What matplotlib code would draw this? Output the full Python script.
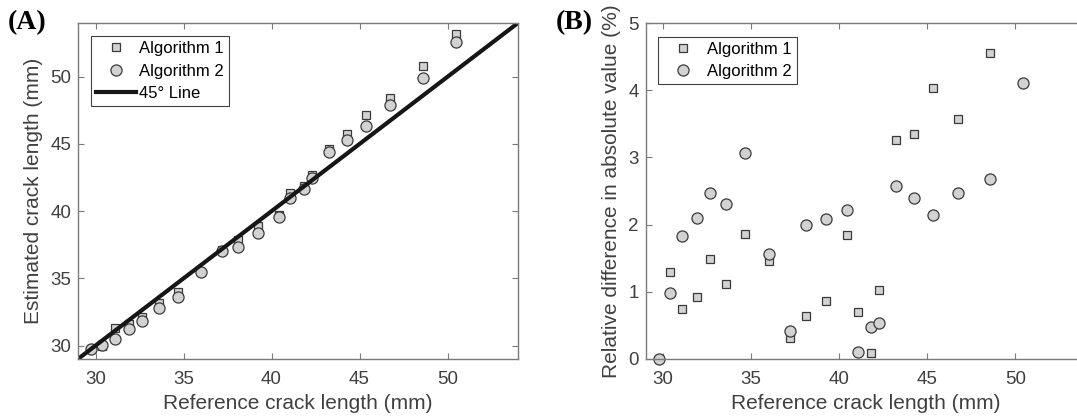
import matplotlib
matplotlib.use('Agg')
from matplotlib import pyplot as plt

# reference crack lengths (mm), shared by both panels
ref_len = [29.76, 30.36, 31.08, 31.91, 32.65, 33.58, 34.66, 36.00, 37.20, 38.10, 39.23,
           40.44, 41.05, 41.82, 42.27, 43.25, 44.26, 45.34, 46.72, 48.58, 50.47]

# estimated crack lengths (mm)
est_alg1 = [29.76, 29.97, 31.31, 31.61, 32.16, 33.20, 34.02, 35.47, 37.08, 37.86, 38.89,
            39.69, 41.34, 41.86, 42.70, 44.66, 45.74, 47.18, 48.39, 50.80, 53.20]
est_alg2 = [29.76, 30.06, 30.51, 31.24, 31.84, 32.81, 33.60, 35.44, 37.05, 37.34, 38.41,
            39.55, 41.00, 41.62, 42.50, 44.37, 45.32, 46.32, 47.87, 49.88, 52.55]

# relative difference in absolute value (%)
rel_alg1 = [0.00, 1.30, 0.74, 0.93, 1.49, 1.12, 1.86, 1.46, 0.31, 0.64, 0.87,
            1.85, 0.70, 0.09, 1.02, 3.26, 3.35, 4.04, 3.57, 4.56, 5.40]
rel_alg2 = [0.00, 0.98, 1.83, 2.10, 2.47, 2.30, 3.07, 1.56, 0.41, 2.00, 2.08,
            2.21, 0.11, 0.48, 0.54, 2.58, 2.40, 2.15, 2.47, 2.68, 4.11]

line_45 = [29, 54]

plt.rcParams['font.family'] = ['Liberation Sans', 'DejaVu Sans']

txt_col = '#404040'
ax_col = '#7a7a7a'
face = '#d2d2d2'
edge = '#3a3a3a'

fig = plt.figure(figsize=(10.77, 4.19), dpi=100)
axA = fig.add_axes([0.0724, 0.1432, 0.4085, 0.8019])
axB = fig.add_axes([0.5995, 0.1432, 0.4085, 0.8019])


def style(ax):
    for s in ax.spines.values():
        s.set_color(ax_col)
        s.set_linewidth(1.0)
    ax.tick_params(direction='in', length=4, width=0.8, color=ax_col,
                   labelcolor=txt_col, labelsize=13.5, top=True, right=True)
    ax.tick_params(axis='x', pad=9)
    ax.tick_params(axis='y', pad=5)


def legend(ax, anchor):
    leg = ax.legend(loc='upper left', bbox_to_anchor=anchor, fontsize=12,
                    frameon=True, fancybox=False, edgecolor='#404040', framealpha=1,
                    handlelength=2.4, handletextpad=0.2, borderpad=0.3,
                    labelspacing=0.45, borderaxespad=0)
    leg.get_frame().set_linewidth(0.8)
    return leg


# panel A
axA.plot(ref_len, est_alg1, linestyle='none', marker='s', ms=6.2, mfc=face, mec=edge,
         mew=0.9, label='Algorithm 1')
axA.plot(ref_len, est_alg2, linestyle='none', marker='o', ms=8, mfc=face, mec=edge,
         mew=0.9, label='Algorithm 2')
axA.plot(line_45, line_45, color='#161616', lw=3, label='45\u00b0 Line')
axA.set_xlim(29, 54)
axA.set_ylim(29, 54)
axA.set_xticks([30, 35, 40, 45, 50])
axA.set_yticks([30, 35, 40, 45, 50])
axA.set_xlabel('Reference crack length (mm)', color=txt_col, fontsize=15, labelpad=4)
axA.set_ylabel('Estimated crack length (mm)', color=txt_col, fontsize=15, labelpad=5)
style(axA)
legend(axA, (0.029, 0.961))

# panel B
axB.plot(ref_len, rel_alg1, linestyle='none', marker='s', ms=6.2, mfc=face, mec=edge,
         mew=0.9, label='Algorithm 1')
axB.plot(ref_len, rel_alg2, linestyle='none', marker='o', ms=8, mfc=face, mec=edge,
         mew=0.9, label='Algorithm 2', clip_on=False)
axB.set_xlim(29, 54)
axB.set_ylim(0, 5)
axB.set_xticks([30, 35, 40, 45, 50])
axB.set_yticks([0, 1, 2, 3, 4, 5])
axB.set_xlabel('Reference crack length (mm)', color=txt_col, fontsize=15, labelpad=4)
axB.set_ylabel('Relative difference in absolute value (%)', color=txt_col,
               fontsize=15, labelpad=5)
style(axB)
legend(axB, (0.029, 0.959))

fig.text(0.007, 0.945, '(A)', fontsize=20, fontweight='bold',
         family=['Liberation Serif', 'DejaVu Serif'], va='center')
fig.text(0.516, 0.945, '(B)', fontsize=20, fontweight='bold',
         family=['Liberation Serif', 'DejaVu Serif'], va='center')

fig.savefig('out.png', dpi=100)
